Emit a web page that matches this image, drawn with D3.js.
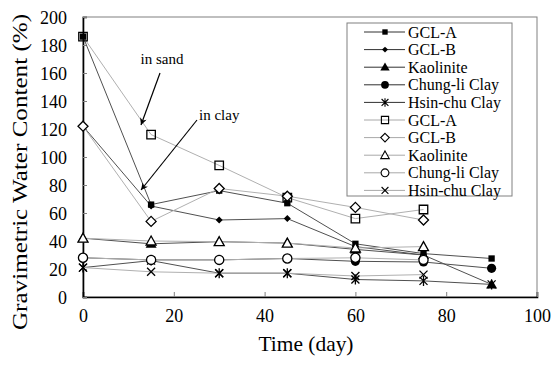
<!DOCTYPE html>
<html><head><meta charset="utf-8">
<script src="https://cdn.jsdelivr.net/npm/d3@7/dist/d3.min.js"></script>
<style>body{margin:0;background:#fff}svg{display:block}text{font-family:"Liberation Serif","Times New Roman",serif;fill:#000}</style>
</head><body>
<script>
const days = [0, 15, 30, 45, 60, 75, 90];
const gclAClay = [186, 66, 76, 67, 38, 31, 27.5];
const gclBClay = [122, 65, 55, 56, 36, 30];
const kaolClay = [42, 38, 39.5, 38.5, 34, 30, 9];
const chungClay = [28, 26.5, 26.5, 27.5, 25.5, 25, 20.5];
const hsinClay = [21, 26, 17, 17, 12.5, 11.5, 9];
const gclASand = [186, 116, 94, 71, 56, 62.5];
const gclBSand = [122, 54, 77.5, 72, 64, 55];
const kaolSand = [42, 40, 39.5, 38.5, 35, 36];
const chungSand = [28, 26.5, 26.5, 27.5, 28, 26.5];
const hsinSand = [21, 18, 17, 17, 15, 16];
const seriesNames = ["GCL-A", "GCL-B", "Kaolinite", "Chung-li Clay", "Hsin-chu Clay"];
const xTicks = [0, 20, 40, 60, 80, 100];
const yTicks = [0, 20, 40, 60, 80, 100, 120, 140, 160, 180, 200];

const series = [
  {name: seriesNames[0], vals: gclAClay, m: "fsquare", open: false},
  {name: seriesNames[1], vals: gclBClay, m: "fdiamond", open: false},
  {name: seriesNames[2], vals: kaolClay, m: "ftri", open: false},
  {name: seriesNames[3], vals: chungClay, m: "fcircle", open: false},
  {name: seriesNames[4], vals: hsinClay, m: "star", open: false},
  {name: seriesNames[0], vals: gclASand, m: "osquare", open: true},
  {name: seriesNames[1], vals: gclBSand, m: "odiamond", open: true},
  {name: seriesNames[2], vals: kaolSand, m: "otri", open: true},
  {name: seriesNames[3], vals: chungSand, m: "ocircle", open: true},
  {name: seriesNames[4], vals: hsinSand, m: "x", open: true}
];

const W = 555, H = 367;
const svg = d3.select("body").append("svg").attr("width", W).attr("height", H);
const x = d3.scaleLinear().domain([0, 100]).range([83, 537]);
const y = d3.scaleLinear().domain([0, 200]).range([297, 17]);

svg.append("rect").attr("x", 83).attr("y", 17).attr("width", 454).attr("height", 280)
  .attr("fill", "none").attr("stroke", "#808080").attr("stroke-width", 1);

const gx = svg.append("g").attr("transform", "translate(0,297)")
  .call(d3.axisBottom(x).tickValues(xTicks).tickSize(-5).tickPadding(12).tickFormat(d3.format("d")));
const gy = svg.append("g").attr("transform", "translate(83,0)")
  .call(d3.axisLeft(y).tickValues(yTicks).tickSize(-4).tickPadding(16).tickFormat(d3.format("d")));
[gx, gy].forEach(g => {
  g.select(".domain").attr("stroke", "#000").attr("stroke-width", 1.6);
  g.selectAll(".tick line").attr("stroke", "#808080");
  g.selectAll("text").style("font-family", "Liberation Serif").style("font-size", "18px");
});
gy.selectAll("text").attr("dy", "0.34em");
gx.selectAll("text").attr("dy", "0.71em");

svg.append("text").attr("x", 306).attr("y", 351).attr("text-anchor", "middle")
  .attr("textLength", 95).attr("lengthAdjust", "spacingAndGlyphs")
  .style("font-size", "21px").text("Time (day)");
svg.append("text").attr("transform", "translate(27,172) rotate(-90)").attr("text-anchor", "middle")
  .attr("textLength", 316).attr("lengthAdjust", "spacingAndGlyphs")
  .style("font-size", "22px").text("Gravimetric Water Content (%)");

function markerPath(m) {
  switch (m) {
    case "fsquare": return d3.symbol(d3.symbolSquare, 40)();
    case "osquare": return d3.symbol(d3.symbolSquare, 72)();
    case "fdiamond": return "M0,-3.5L3.5,0L0,3.5L-3.5,0Z";
    case "odiamond": return "M0,-5L5,0L0,5L-5,0Z";
    case "ftri": return "M0,-5.5L5.5,4L-5.5,4Z";
    case "otri": return "M0,-5L5,4L-5,4Z";
    case "fcircle": return d3.symbol(d3.symbolCircle, 66)();
    case "ocircle": return d3.symbol(d3.symbolCircle, 66)();
    case "star": return "M-4,-4L4,4M-4,4L4,-4M0,-5L0,5";
    case "x": return "M-4,-4L4,4M-4,4L4,-4";
  }
}
function styleMarker(sel, m) {
  if (m === "star" || m === "x") sel.attr("fill", "none").attr("stroke", "#000").attr("stroke-width", 1.3);
  else if (m[0] === "f") sel.attr("fill", "#000").attr("stroke", "none");
  else sel.attr("fill", m === "osquare" ? "none" : "#fff").attr("stroke", "#000").attr("stroke-width", 1.3);
}

const line = d3.line().x(d => x(d[0])).y(d => y(d[1]));
series.forEach(s => {
  const pts = s.vals.map((v, i) => [days[i], v]);
  svg.append("path").attr("d", line(pts)).attr("fill", "none")
    .attr("stroke", s.open ? "#b0b0b0" : "#505050").attr("stroke-width", 1);
});
series.forEach(s => {
  const pts = s.vals.map((v, i) => [days[i], v]);
  const g = svg.append("g");
  pts.forEach(p => {
    const mk = g.append("path").attr("d", markerPath(s.m))
      .attr("transform", `translate(${x(p[0])},${y(p[1])})`);
    styleMarker(mk, s.m);
  });
});

const defs = svg.append("defs");
defs.append("marker").attr("id", "ah").attr("viewBox", "0 0 10 10").attr("refX", 10).attr("refY", 5)
  .attr("markerWidth", 9).attr("markerHeight", 7).attr("markerUnits", "userSpaceOnUse").attr("orient", "auto")
  .append("path").attr("d", "M0,0L10,5L0,10L3,5Z").attr("fill", "#000");
svg.append("text").attr("x", 162).attr("y", 64).attr("text-anchor", "middle").style("font-size", "15px").text("in sand");
svg.append("line").attr("x1", 160).attr("y1", 73).attr("x2", 141).attr("y2", 125)
  .attr("stroke", "#000").attr("stroke-width", 1.2).attr("marker-end", "url(#ah)");
svg.append("text").attr("x", 199).attr("y", 120).style("font-size", "15px").text("in clay");
svg.append("line").attr("x1", 197).attr("y1", 120).attr("x2", 141).attr("y2", 190)
  .attr("stroke", "#000").attr("stroke-width", 1.2).attr("marker-end", "url(#ah)");

const lg = svg.append("g");
lg.append("rect").attr("x", 347).attr("y", 23).attr("width", 165).attr("height", 173)
  .attr("fill", "#fff").attr("stroke", "#808080").attr("stroke-width", 1);
series.forEach((s, i) => {
  const yy = 32 + i * 17.6;
  lg.append("line").attr("x1", 364).attr("x2", 405).attr("y1", yy).attr("y2", yy)
    .attr("stroke", s.open ? "#a8a8a8" : "#303030").attr("stroke-width", 1);
  const mk = lg.append("path").attr("d", markerPath(s.m)).attr("transform", `translate(385,${yy}) scale(0.85)`);
  styleMarker(mk, s.m);
  lg.append("text").attr("x", 408).attr("y", yy).attr("dy", "0.35em").style("font-size", "16px").text(s.name);
});
</script>
</body></html>
